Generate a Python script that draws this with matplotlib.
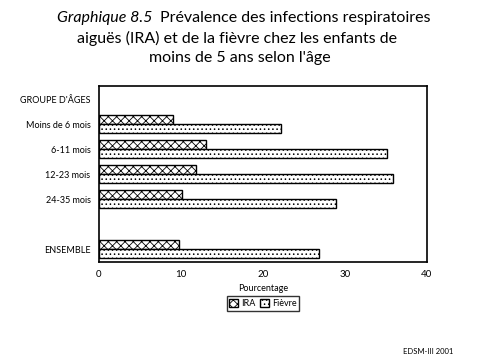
import matplotlib.pyplot as plt

# === DONNÉES ===
groupes = ["Moins de 6 mois", "6-11 mois", "12-23 mois", "24-35 mois", "ENSEMBLE"]
positions = [1, 2, 3, 4, 6]  # une ligne vide avant ENSEMBLE
ira = [9.0, 13.1, 11.8, 10.1, 9.8]
fievre = [22.2, 35.2, 35.9, 28.9, 26.8]
ticks_x = [0, 10, 20, 30, 40]

plt.rcParams['font.family'] = ['Lato', 'DejaVu Sans']
plt.rcParams['hatch.linewidth'] = 0.6

fig = plt.figure(figsize=(4.8, 3.63), dpi=100)
ax = fig.add_axes([0.206, 0.278, 0.683, 0.485])

h = 0.36
ax.barh([p - h / 2 for p in positions], ira, height=h, color='white',
        edgecolor='black', linewidth=1, hatch='xxxx', label='IRA')
ax.barh([p + h / 2 for p in positions], fievre, height=h, color='white',
        edgecolor='black', linewidth=1, hatch='....', label='Fièvre')

ax.set_xlim(0, 40)
ax.set_ylim(6.52, -0.52)
ax.set_xticks(ticks_x)
ax.set_xticklabels([str(t) for t in ticks_x], fontsize=7)
ax.set_yticks([0] + positions)
ax.set_yticklabels(["GROUPE D'ÂGES"] + groupes, fontsize=6.5)
ax.tick_params(length=0, pad=6)
for s in ax.spines.values():
    s.set_linewidth(1.2)

ax.set_xlabel("Pourcentage", fontsize=6.5, labelpad=3)

ax.legend(loc='upper center', bbox_to_anchor=(0.5, -0.195), ncol=2,
          fontsize=6.5, frameon=True, fancybox=False, edgecolor='black',
          handlelength=1.0, handleheight=0.9, handletextpad=0.3,
          columnspacing=0.5, borderpad=0.3, borderaxespad=0)
leg = ax.get_legend()
leg.get_frame().set_linewidth(1)

# Titre
fig.text(152 / 480, 1 - 18 / 363, "Graphique 8.5", ha='right', va='center',
         fontsize=11.5, style='italic')
fig.text(160 / 480, 1 - 18 / 363, "Prévalence des infections respiratoires",
         ha='left', va='center', fontsize=11.5)
fig.text(237 / 480, 1 - 38 / 363, "aiguës (IRA) et de la fièvre chez les enfants de",
         ha='center', va='center', fontsize=11.5)
fig.text(240 / 480, 1 - 58 / 363, "moins de 5 ans selon l'âge",
         ha='center', va='center', fontsize=11.5)

fig.text(403 / 480, 1 - 352 / 363, "EDSM-III 2001", ha='left', va='center', fontsize=5.5)

fig.savefig("out.png", dpi=100)
